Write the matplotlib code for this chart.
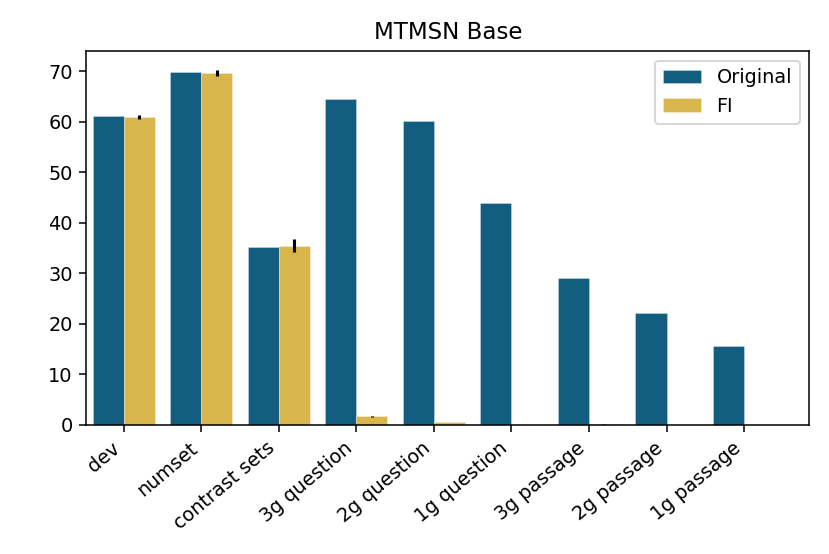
import numpy as np
import matplotlib
matplotlib.use("Agg")
import matplotlib.pyplot as plt

categories = ["dev", "numset", "contrast sets", "3g question", "2g question",
              "1g question", "3g passage", "2g passage", "1g passage"]
original = [61.1, 69.8, 35.3, 64.5, 60.1, 43.9, 29.1, 22.1, 15.6]
fi = [60.9, 69.6, 35.5, 1.7, 0.6, 0.0, 0.1, 0.0, 0.0]
fi_err = [0.4, 0.6, 1.2, 0.05, 0.05, 0.0, 0.05, 0.0, 0.0]

fig, ax = plt.subplots(figsize=(6, 4.005), dpi=138.33)
x = np.arange(len(categories))
w = 0.4
ax.bar(x - w/2, original, w, color="#135e80", edgecolor=(1, 1, 1, 0.5),
       linewidth=0.3, label="Original")
ax.bar(x + w/2, fi, w, color="#d8b64b", edgecolor=(1, 1, 1, 0.5),
       linewidth=0.3, label="FI")
ax.errorbar(x + w/2, fi, yerr=fi_err, fmt="none", ecolor="black",
            elinewidth=1.6, capsize=0)

ax.set_xticks(x)
ax.set_xticklabels(categories, rotation=40, ha="right")
ax.set_xlim(-0.48, 8.84)
ax.set_ylim(0, 74)
ax.set_title("MTMSN Base")
ax.legend(loc="upper right")
plt.subplots_adjust(left=0.104, right=0.975, top=0.908, bottom=0.233)
plt.savefig("out.png")
